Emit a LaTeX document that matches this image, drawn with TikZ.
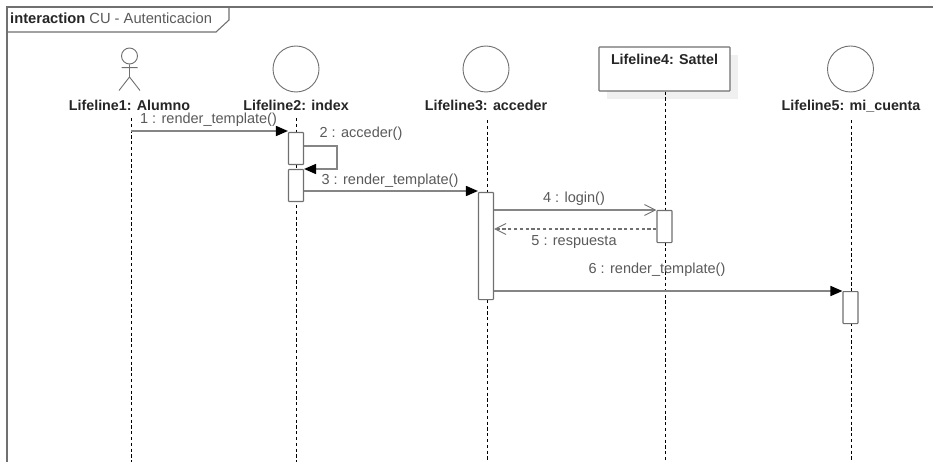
\documentclass[tikz,border=0pt]{standalone}
\usepackage{fontspec}
\setmainfont{Liberation Sans}
\usetikzlibrary{arrows.meta}
\definecolor{edge}{HTML}{707070}
\definecolor{msgline}{HTML}{858585}
\definecolor{msgtext}{HTML}{5A5A5A}
\tikzset{
  frameline/.style={draw=edge,line width=1.1pt},
  headcircle/.style={draw=edge,line width=0.9pt,circle,minimum size=46pt,inner sep=0pt,fill=white},
  lifelabel/.style={font=\fontsize{14.3}{16}\selectfont\bfseries,text=black!85,inner sep=0pt,anchor=base},
  msglabel/.style={font=\fontsize{14.5}{16}\selectfont,text=msgtext,inner sep=0pt,anchor=base},
  lifeline/.style={draw=black,line width=0.8pt,dash pattern=on 3.2pt off 2.6pt},
  activation/.style={draw=edge,line width=1.1pt,fill=white,rounded corners=0.6pt,minimum width=15pt,inner sep=0pt,anchor=north},
  syncmsg/.style={draw=msgline,line width=1.6pt,-{Triangle[length=12pt,width=10pt,fill=black,color=black]}},
  openmsg/.style={draw=msgline,line width=1.6pt,-{Straight Barb[length=11pt,width=11pt,line width=0.9pt,color=edge]}},
  retmsg/.style={draw=edge,line width=1pt,dash pattern=on 3.2pt off 2.6pt,-{Straight Barb[length=11pt,width=11pt,line width=0.9pt,color=edge]}},
}
\begin{document}
\begin{tikzpicture}[x=1pt,y=-1pt]
\useasboundingbox (0,0) rectangle (933,462);
\fill[white] (0,0) rectangle (933,462);
% frame
\coordinate (frameTL) at (7,7);
\coordinate (frameTR) at (933,7);
\coordinate (frameBL) at (7,462);
\coordinate (tabTop) at (229,7);
\coordinate (tabRight) at (229,20);
\coordinate (tabChamfer) at (216,32);
\coordinate (tabLeft) at (7,32);
\draw[frameline] (frameBL) -- (frameTL) -- (frameTR);
\draw[frameline] (tabTop) -- (tabRight) -- (tabChamfer) -- (tabLeft);
\node[inner sep=0pt,anchor=base west,font=\fontsize{14.7}{16}\selectfont,text=msgtext] (frametitle) at (10,24) {\textcolor{black!85}{\bfseries interaction} CU - Autenticacion};
% heads
\node[headcircle] (head2) at (296,69) {};
\node[headcircle] (head3) at (486,69) {};
\node[headcircle] (head5) at (850.5,69) {};
\fill[black!6] (607,55) rectangle (738,99);
\node[draw=edge,line width=1.1pt,fill=white,rounded corners=0.6pt,minimum width=131pt,minimum height=44pt,inner sep=0pt] (box4) at (664.5,69) {};
\node[lifelabel] (label4) at (664.5,65) {Lifeline4: Sattel};
% actor
\node[draw=edge,line width=0.9pt,circle,minimum size=16pt,inner sep=0pt] (actorhead) at (129.5,56) {};
\coordinate (actorhip) at (129.5,77);
\coordinate (armL) at (121.5,67.7);
\coordinate (armR) at (137.5,67.7);
\coordinate (legL) at (119,90.5);
\coordinate (legR) at (140,90.5);
\draw[edge,line width=0.9pt] (actorhead.south) -- (actorhip) (armL) -- (armR) (legL) -- (actorhip) -- (legR);
% labels
\node[lifelabel] (label1) at (129.5,111) {Lifeline1: Alumno};
\node[lifelabel] (label2) at (296,111) {Lifeline2: index};
\node[lifelabel] (label3) at (486,111) {Lifeline3: acceder};
\node[lifelabel] (label5) at (851,111) {Lifeline5: mi\_cuenta};
% lifelines
\coordinate (top1) at (131,118); \coordinate (bot1) at (131,462);
\coordinate (top2) at (296,118); \coordinate (bot2) at (296,462);
\coordinate (top3) at (487,120); \coordinate (bot3) at (487,462);
\coordinate (bot4) at (665,462);
\coordinate (top5) at (851,120); \coordinate (bot5) at (851,462);
\draw[lifeline] (top1) -- (bot1);
\draw[lifeline] (top2) -- (bot2);
\draw[lifeline] (top3) -- (bot3);
\draw[lifeline] (box4.south -| bot4) -- (bot4);
\draw[lifeline] (top5) -- (bot5);
% activations
\node[activation,minimum height=32pt] (act2a) at (296,132) {};
\node[activation,minimum height=32pt] (act2b) at (296,169) {};
\node[activation,minimum height=107pt] (act3) at (486,192) {};
\node[activation,minimum height=32pt] (act4) at (664.5,210) {};
\node[activation,minimum height=32pt] (act5) at (850.5,291) {};
% messages
\coordinate (m1start) at (131,131);
\draw[syncmsg] (m1start) -- (m1start -| act2a.west);
\coordinate (selfA) at (337,146);
\coordinate (selfB) at (337,169);
\draw[syncmsg] (selfA -| act2a.east) -- (selfA) -- (selfB) -- (selfB -| act2b.east);
\coordinate (m3y) at (400,191);
\draw[syncmsg] (m3y -| act2b.east) -- (m3y -| act3.west);
\coordinate (m4y) at (570,210);
\draw[openmsg] (m4y -| act3.east) -- (m4y -| act4.west);
\coordinate (m5y) at (570,229);
\draw[retmsg] (m5y -| act4.west) -- (m5y -| act3.east);
\coordinate (m6y) at (650,291);
\draw[syncmsg] (m6y -| act3.east) -- (m6y -| act5.west);
% message labels
\node[msglabel] (t1) at (208.5,124) {1 : render\_template()};
\node[msglabel] (t2) at (361,138) {2 : acceder()};
\node[msglabel] (t3) at (390,185) {3 : render\_template()};
\node[msglabel] (t4) at (574,203) {4 : login()};
\node[msglabel] (t5) at (574,245) {5 : respuesta};
\node[msglabel] (t6) at (657,273) {6 : render\_template()};
\end{tikzpicture}
\end{document}
